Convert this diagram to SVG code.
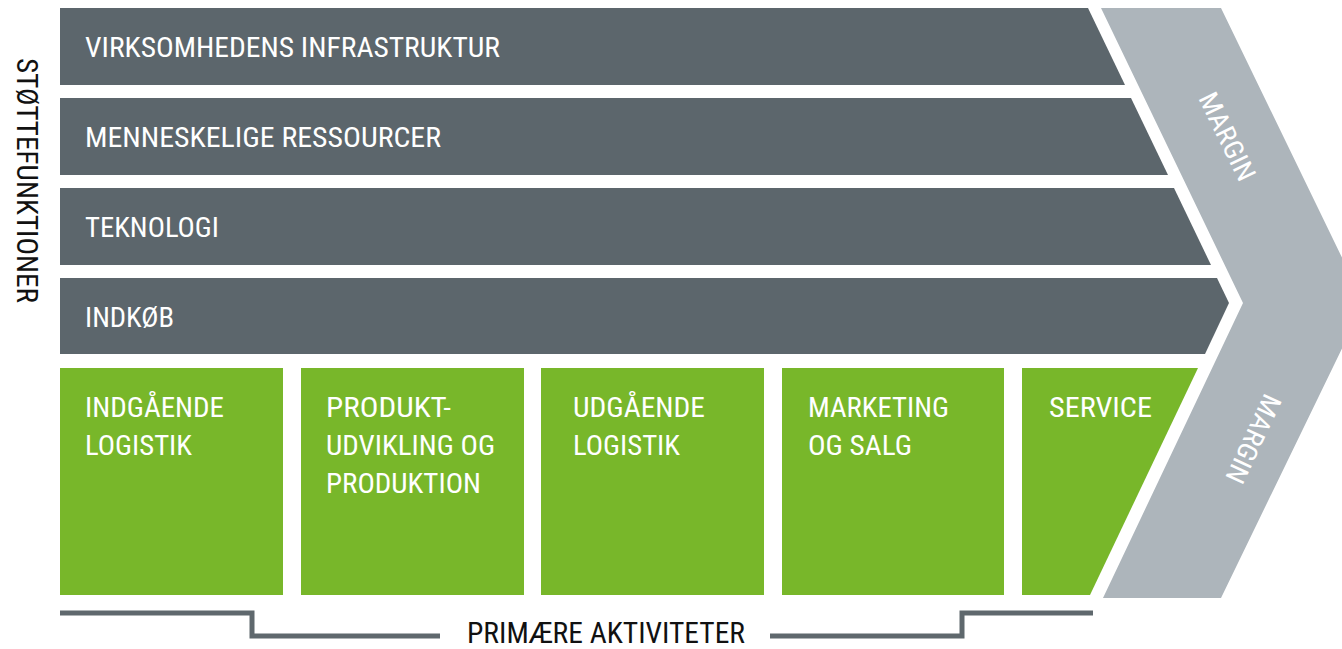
<svg xmlns="http://www.w3.org/2000/svg" width="1342" height="649" viewBox="0 0 1342 649">
<style>
.bar{fill:#5c666c}
.grn{fill:#78b72a}
.chev{fill:#adb5bb}
.t{font-family:"Roboto Condensed","Liberation Sans Narrow","Roboto","Liberation Sans",sans-serif;font-stretch:condensed;font-size:28px;fill:#ffffff}
.m{font-family:"Roboto Condensed","Liberation Sans Narrow","Roboto","Liberation Sans",sans-serif;font-stretch:condensed;font-size:27px;fill:#ffffff}
.k{font-family:"Roboto Condensed","Liberation Sans Narrow","Roboto","Liberation Sans",sans-serif;font-stretch:condensed;font-size:30px;fill:#111111}
.kb{font-family:"Roboto Condensed","Liberation Sans Narrow","Roboto","Liberation Sans",sans-serif;font-stretch:condensed;font-size:29px;fill:#111111}
.br{fill:none;stroke:#5f686d;stroke-width:5}
</style>
<rect width="1342" height="649" fill="#ffffff"/>
<g id="margin-chevron">
<polygon class="chev" points="1101,8 1221,8 1364,303 1221,598 1103,598 1243,303"/>
<text class="m" transform="translate(1198,98) rotate(64)" textLength="95" lengthAdjust="spacingAndGlyphs">MARGIN</text>
<text class="m" transform="translate(1265,392) rotate(115)" textLength="95" lengthAdjust="spacingAndGlyphs">MARGIN</text>
</g>
<g id="support-label">
<text class="k" transform="translate(17,58) rotate(90)" textLength="245" lengthAdjust="spacingAndGlyphs">STØTTEFUNKTIONER</text>
</g>
<g id="infrastruktur">
<polygon class="bar" points="60,8 1088,8 1125,85 60,85"/>
<text class="t" x="85" y="57" textLength="415" lengthAdjust="spacingAndGlyphs">VIRKSOMHEDENS INFRASTRUKTUR</text>
</g>
<g id="ressourcer">
<polygon class="bar" points="60,98 1131,98 1168,175 60,175"/>
<text class="t" x="85" y="147" textLength="356" lengthAdjust="spacingAndGlyphs">MENNESKELIGE RESSOURCER</text>
</g>
<g id="teknologi">
<polygon class="bar" points="60,188 1174,188 1211,265 60,265"/>
<text class="t" x="85" y="237" textLength="134" lengthAdjust="spacingAndGlyphs">TEKNOLOGI</text>
</g>
<g id="indkoeb">
<polygon class="bar" points="60,278 1217,278 1229,303 1205,354 60,354"/>
<text class="t" x="85" y="327" textLength="89" lengthAdjust="spacingAndGlyphs">INDKØB</text>
</g>
<g id="indgaaende">
<rect class="grn" x="60" y="368" width="223" height="227"/>
<text class="t" x="85" y="417" textLength="139" lengthAdjust="spacingAndGlyphs">INDGÅENDE</text>
<text class="t" x="85" y="455" textLength="107" lengthAdjust="spacingAndGlyphs">LOGISTIK</text>
</g>
<g id="produktion">
<rect class="grn" x="301" y="368" width="223" height="227"/>
<text class="t" x="326" y="417" textLength="125" lengthAdjust="spacingAndGlyphs">PRODUKT-</text>
<text class="t" x="326" y="455" textLength="169" lengthAdjust="spacingAndGlyphs">UDVIKLING OG</text>
<text class="t" x="326" y="493" textLength="155" lengthAdjust="spacingAndGlyphs">PRODUKTION</text>
</g>
<g id="udgaaende">
<rect class="grn" x="541" y="368" width="223" height="227"/>
<text class="t" x="573" y="417" textLength="132" lengthAdjust="spacingAndGlyphs">UDGÅENDE</text>
<text class="t" x="573" y="455" textLength="107" lengthAdjust="spacingAndGlyphs">LOGISTIK</text>
</g>
<g id="marketing">
<rect class="grn" x="782" y="368" width="222" height="227"/>
<text class="t" x="808" y="417" textLength="141" lengthAdjust="spacingAndGlyphs">MARKETING</text>
<text class="t" x="808" y="455" textLength="104" lengthAdjust="spacingAndGlyphs">OG SALG</text>
</g>
<g id="service">
<polygon class="grn" points="1022,368 1198,368 1090,595 1022,595"/>
<text class="t" x="1049" y="417" textLength="103" lengthAdjust="spacingAndGlyphs">SERVICE</text>
</g>
<g id="connectors">
<polyline class="br" points="60,613 252,613 252,636 440,636"/>
<polyline class="br" points="770,636 962,636 962,613 1093,613"/>
</g>
<g id="primary-label">
<text class="kb" x="467" y="643" textLength="278" lengthAdjust="spacingAndGlyphs">PRIMÆRE AKTIVITETER</text>
</g>
</svg>
